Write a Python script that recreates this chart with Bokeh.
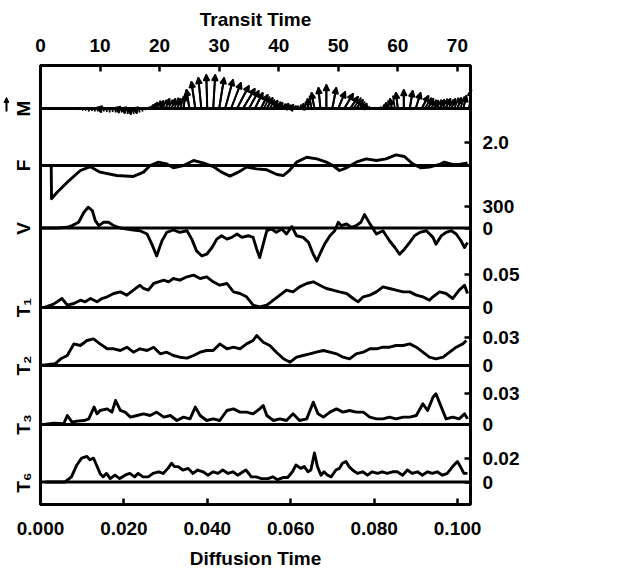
import math
from bokeh.plotting import figure
from bokeh.layouts import row
from bokeh.models import (Range1d, LinearAxis, FixedTicker, Span, Arrow, NormalHead,
                          ColumnDataSource, NumeralTickFormatter)
from bokeh.embed import file_html
from bokeh.resources import INLINE

# ---------------- data ----------------
transit_ticks = [0, 10, 20, 30, 40, 50, 60, 70]
diffusion_ticks = [0.0, 0.02, 0.04, 0.06, 0.08, 0.10]
panel_names = ["M", "F", "V", "T\u2081", "T\u2082", "T\u2083", "T\u2086"]

# M vector field, sampled every 0.5 transit times (vertical / horizontal components)
m_y = [1, 1, 1, 0.5, 1, 1, 1, 1, 0.5, 0,
       0, -1, -1, -1.5, -2, -2, -3, -2.5, -3, -3,
       -4, -3, -3.5, -4, -3.5, -4, -4.5, -4, -5, -5.5,
       -6, -5.5, -5, -4, -3, -1.5, 2, 4, 6, 8,
       8, 9, 10, 9, 10, 11, 10, 12, 14, 16,
       19, 23, 27, 29, 31, 32, 34, 33, 34, 32,
       31, 30, 29, 27, 26, 24, 23, 21, 20, 19,
       18, 17, 16, 15, 14, 12, 11, 9, 8, 7,
       6, 5, 5, 4, 4, 3, 3, 4, 5, 7,
       10, 13, 16, 19, 21, 23, 24, 23, 21, 19,
       17, 16, 15, 14, 12, 11, 9, 7, 5, 3,
       2, 1, 1, 1, 2, 4, 6, 8, 10, 13,
       16, 18, 19, 19, 18, 17, 16, 15, 13, 11,
       10, 9, 8, 9, 9, 10, 10, 9, 10, 11,
       11, 12, 13, 15, 19]
m_x = [0.5, 0.5, 0.5, 0.5, 0.5, 0.5, 0.5, 0.5, 0.5, 0.5,
       0.5, 0.5, 0.5, 0.5, 1, 1, 1, 1, 1, 1,
       1, 1, 1, 1, 1, 1, 1, 1, 1, 1,
       1, 1, 1, 1, 1, 1, 3, 3, 4, 4,
       4, 4, 4, 4, 4, 4, 3, 3, 2, 1,
       -3, -4, -4, -4, -3, -2, -1, 0, 2, 3,
       5, 6, 8, 9, 10, 11, 12, 12, 12, 11,
       10, 9, 8, 7, 7, 6, 6, 5, 5, 5,
       4, 4, 4, 3, 3, 3, 2, 2, 1, 0,
       -1, -2, -3, -3, -2, -1, 0, 2, 4, 6,
       7, 8, 9, 9, 8, 8, 7, 6, 5, 3,
       2, 1, 1, 1, 1, 1, 0, -1, -2, -2,
       -2, -1, 0, 1, 3, 4, 5, 6, 7, 7,
       6, 6, 5, 5, 5, 5, 5, 5, 4, 4,
       4, 4, 3, 3, 2]
m_t = [0.5 * i for i in range(len(m_y))]

t_f = [0, 1.8, 1.85, 2.8, 4.5, 6.7, 8.4, 10, 12.8, 15.6, 17.3, 18.4, 19.8, 21.2, 22.3,
       24, 25.7, 27.4, 29, 30.4, 31.8, 33.2, 34.6, 36.3, 38, 39.7, 40.8, 41.9, 43,
       44.7, 46.4, 48, 49.1, 50.2, 51.4, 53, 54.7, 56.4, 58, 59.7, 61.1, 62.5, 63.9,
       65.3, 67, 67.8, 69.2, 70.3, 71.7]
f_vals = [0, 0, -2.86, -2.3, -1.43, -0.43, -0.1, -0.57, -0.86, -0.94, -0.57, 0, 0.29,
          0.14, -0.2, 0, 0.43, 0.2, -0.09, -0.57, -0.91, -0.57, -0.14, -0.29, -0.37,
          -0.77, -0.86, -0.37, 0.29, 0.71, 0.57, 0.29, 0, -0.43, -0.2, 0.29, 0.57, 0.43,
          0.57, 0.91, 0.77, 0.14, -0.2, -0.14, 0.09, 0.29, 0.09, 0.09, 0.23]

t_v = [0, 2.8, 4.5, 5.3, 6.4, 7.3, 8.0, 8.7, 9.2, 9.8, 10.6, 11.4, 12.3, 13.4, 14.5,
       15.6, 16.7, 17.9, 18.7, 19.5, 20.4, 21.2, 22.3, 23.4, 24.6, 25.4, 26.2, 27.1,
       27.9, 28.8, 29.6, 30.4, 31.3, 32.1, 33, 33.8, 34.9, 35.7, 36.3, 36.8, 37.4, 38,
       38.8, 39.6, 40.5, 41.3, 42.2, 43, 44.1, 45, 45.8, 46.4, 46.9, 47.7, 48.6, 49.4,
       50, 50.5, 51.4, 52.2, 53, 53.8, 54.4, 55, 55.5, 56.4, 57.5, 58.6, 59.5, 60.3,
       61.1, 62, 62.8, 63.7, 64.8, 65.9, 66.4, 67.3, 68.1, 69, 69.8, 70.6, 71.2, 71.7]
v_vals = [0, 0, 10, 33, 80, 220, 290, 244, 103, 33, 80, 80, 33, 0, -14,
          -28, -38, -84, -225, -390, -178, -61, -28, -61, -38, -155, -319, -390,
          -366, -272, -155, -108, -155, -131, -84, -131, -108, -131, -295, -413, -225, -38,
          -14, -61, -14, -84, 20, -108, -131, -201, -366, -460, -366, -225, -108, -38,
          80, 33, 56, 9, 33, 80, 188, 103, 33, -84, -38, -178, -272, -366,
          -295, -201, -108, -61, -38, -131, -225, -108, -61, -38, -84, -178, -272, -201]

t_t1 = [0.56, 2.2, 3.6, 4.5, 5.6, 6.7, 7.5, 8.4, 9.5, 10.3, 11.2, 12.3, 13.4, 14.5,
        15.6, 16.7, 17.3, 18.1, 19, 19.8, 20.7, 21.5, 22.3, 23.4, 24.6, 25.7, 26.8,
        27.9, 29, 30.1, 31.3, 32.4, 33.5, 34.6, 35.7, 36.8, 38, 39.1, 40.2, 41.3, 42.4,
        43.5, 44.7, 45.8, 46.9, 48, 49.1, 50.2, 51.4, 52.5, 53.3, 54.2, 55.3, 56.4,
        57.5, 58.6, 59.7, 60.9, 62, 63.1, 64.2, 65.3, 65.9, 67, 68.1, 69.2, 70.3,
        71.2, 71.7]
t1_vals = [0, 0.0051, 0.0136, 0.0035, 0.0061, 0.0111, 0.0086, 0.0136, 0.0086, 0.0136,
           0.0162, 0.0212, 0.0237, 0.0187, 0.0263, 0.0338, 0.0288, 0.0263, 0.0364,
           0.0389, 0.0414, 0.0389, 0.0439, 0.0414, 0.0465, 0.049, 0.0439, 0.0465,
           0.0389, 0.0338, 0.0364, 0.0237, 0.0212, 0.0162, 0.0035, 0.001, 0.0035,
           0.0111, 0.0187, 0.0263, 0.0237, 0.0313, 0.0364, 0.0389, 0.0338, 0.0288,
           0.0263, 0.0237, 0.0212, 0.0136, 0.0086, 0.0162, 0.0187, 0.0237, 0.0313,
           0.0288, 0.0263, 0.0237, 0.0237, 0.0187, 0.0162, 0.0111, 0.0162, 0.0237,
           0.0212, 0.0136, 0.0263, 0.0338, 0.0212]

t_t2 = [0, 2.5, 3.4, 4.5, 5.6, 6.7, 7.8, 8.9, 10, 11.2, 12.3, 13.4, 14.5, 15.6, 16.7,
        17.9, 19, 20.1, 21.2, 22.3, 23.4, 24.6, 25.7, 26.8, 27.9, 29, 30.1, 31.3, 32.4,
        33.5, 34.6, 35.7, 36.3, 37.4, 38.5, 39.6, 40.8, 41.9, 43, 44.1, 45.2, 46.3,
        47.5, 48.6, 49.7, 50.8, 51.9, 53, 54.2, 55.3, 56.4, 57.5, 58.6, 59.7, 60.9, 62,
        63.1, 64.2, 65.3, 66.4, 67.6, 68.7, 69.8, 70.9, 71.5]
t2_vals = [0, 0.002, 0.0071, 0.0106, 0.0229, 0.0212, 0.0265, 0.0282, 0.0229, 0.0177,
           0.0177, 0.0159, 0.0194, 0.0141, 0.0177, 0.0159, 0.0194, 0.0124, 0.0141,
           0.0106, 0.0088, 0.0078, 0.0106, 0.0141, 0.0159, 0.0159, 0.0229, 0.0177,
           0.0194, 0.0177, 0.0229, 0.0265, 0.0318, 0.0247, 0.0212, 0.0141, 0.0071,
           0.0035, 0.0088, 0.0106, 0.0124, 0.0141, 0.0159, 0.0141, 0.0124, 0.0088,
           0.0071, 0.0124, 0.0141, 0.0177, 0.0177, 0.0194, 0.0194, 0.0212, 0.0212,
           0.0229, 0.0194, 0.0141, 0.0088, 0.0071, 0.0088, 0.0141, 0.0194, 0.0229, 0.0265]

t_t3 = [0.56, 2.2, 3.9, 4.5, 5.3, 6.1, 7.3, 8.1, 9, 9.5, 10, 11.2, 12, 12.6, 13.4, 14.2,
        15.1, 16.2, 17.3, 18.4, 19.5, 20.7, 21.8, 22.9, 24, 25.1, 26, 26.8, 27.9, 29,
        30.1, 31.3, 32.4, 33.5, 34.6, 35.7, 36.8, 37.4, 38, 39.1, 40.2, 41.3, 42.4,
        43.5, 44.7, 45.8, 46.6, 47.5, 48.6, 49.7, 50.8, 51.9, 53, 54.2, 55.3, 56.4,
        57.5, 58.6, 59.7, 60.9, 62, 63.1, 64.2, 65, 65.9, 66.4, 67.3, 68.1, 69.2, 70.3,
        71.2, 71.7]
t3_vals = [0, 0.0013, 0.0007, 0.0088, 0.0023, 0.0033, 0.0039, 0.0055, 0.017, 0.0104,
           0.0137, 0.0153, 0.0121, 0.0235, 0.0137, 0.0121, 0.0072, 0.0088, 0.0104,
           0.0088, 0.0121, 0.0072, 0.0088, 0.0039, 0.0072, 0.0055, 0.017, 0.0088,
           0.0039, 0.0055, 0.0039, 0.0137, 0.0153, 0.0121, 0.0121, 0.0104, 0.0153,
           0.0186, 0.0088, 0.0039, 0.0055, 0.0039, 0.0104, 0.0039, 0.0055, 0.0218,
           0.0104, 0.0072, 0.0121, 0.0153, 0.0121, 0.0137, 0.0121, 0.0121, 0.0072,
           0.0055, 0.0055, 0.0072, 0.0055, 0.0072, 0.0072, 0.0088, 0.0202, 0.0137,
           0.0267, 0.03, 0.017, 0.0055, 0.0072, 0.0055, 0.0104, 0.0055]

t_t6 = [0.8, 4.1, 5.2, 6.1, 6.9, 7.8, 8.3, 8.9, 9.4, 10, 10.5, 11.1, 11.7, 12.5, 13.3,
        14.2, 15, 15.8, 16.4, 17.2, 18.1, 18.9, 19.8, 20.6, 21.4, 22, 22.5, 23.1, 23.9,
        24.8, 25.6, 26.4, 27.3, 28.1, 29, 29.8, 30.6, 31.5, 32.3, 33.1, 34, 34.5, 35.4,
        36.2, 37.1, 38.2, 39, 39.8, 40.7, 41.5, 42.3, 42.9, 43.7, 44.3, 44.9, 45.4, 46,
        46.5, 47.1, 47.6, 48.2, 48.8, 49.6, 50.2, 50.7, 51.3, 51.8, 52.4, 53.2, 54.1,
        54.9, 55.7, 56.6, 57.4, 58.2, 59.1, 59.9, 60.8, 61.6, 62.4, 63.3, 64.1, 65,
        65.8, 66.6, 67.5, 68.3, 69.2, 70, 70.5, 71.1, 71.7]
t6_vals = [0, 0, 0.0044, 0.0145, 0.0203, 0.0218, 0.0189, 0.0203, 0.0145, 0.0073, 0.0044,
           0.0073, 0.0029, 0.0058, 0.0029, 0.0058, 0.0073, 0.0044, 0.0073, 0.0044,
           0.0044, 0.0073, 0.0087, 0.0073, 0.0116, 0.016, 0.0131, 0.0131, 0.0102,
           0.0116, 0.0073, 0.0102, 0.0087, 0.0058, 0.0087, 0.0073, 0.0102, 0.0073,
           0.0087, 0.0058, 0.0087, 0.0102, 0.0044, 0.0044, 0.0029, 0.0029, 0.0044,
           0.002, 0.0038, 0.0038, 0.0087, 0.0145, 0.0116, 0.0131, 0.0087, 0.0102,
           0.0247, 0.0131, 0.0058, 0.0087, 0.0058, 0.0044, 0.0102, 0.0116, 0.016,
           0.0174, 0.0131, 0.0102, 0.0073, 0.0087, 0.0058, 0.0087, 0.0073, 0.0087,
           0.0073, 0.0087, 0.0087, 0.0058, 0.0102, 0.0073, 0.0087, 0.0058, 0.0087,
           0.0073, 0.0087, 0.0058, 0.0073, 0.0131, 0.0174, 0.0131, 0.0073, 0.0073]

# ---------------- layout ----------------
FRAME_W, FRAME_H = 430, 439
SIDE_W = 9
TRANSIT_MAX = 72.2
DIFF_MAX = 0.1031
FONT = "Liberation Sans"
FS = "19px"

# key: (baseline px below frame top, px per data unit, right-axis tick values)
panels = [
    ("m", 43, 1.0, []),
    ("f", 100, 23.3 / 2.0, [2.0]),
    ("v", 162.5, 21.5 / 300, [300, 0]),
    ("t1", 242, 33 / 0.05, [0.05, 0]),
    ("t2", 300, 28.3 / 0.03, [0.03, 0]),
    ("t3", 359, 30.7 / 0.03, [0.03, 0]),
    ("t6", 416.5, 23.5 / 0.02, [0.02, 0]),
]

p = figure(frame_width=FRAME_W, frame_height=FRAME_H,
           x_range=Range1d(0, DIFF_MAX), y_range=Range1d(0, FRAME_H),
           x_axis_location=None, y_axis_location=None,
           output_backend="svg", toolbar_location=None,
           min_border_left=40 - SIDE_W, min_border_right=70, min_border_top=65,
           min_border_bottom=70)
p.grid.visible = False
p.outline_line_color = "black"
p.outline_line_width = 3
p.extra_x_ranges = {"transit": Range1d(0, TRANSIT_MAX)}

# very narrow strip at the far left that carries only the vector arrow of the "M" label
side = figure(frame_width=SIDE_W, frame_height=FRAME_H,
              x_range=Range1d(0, SIDE_W), y_range=Range1d(0, FRAME_H),
              x_axis_location=None, y_axis_location=None,
              output_backend="svg", toolbar_location=None,
              min_border_left=0, min_border_right=0, min_border_top=65, min_border_bottom=70)
side.grid.visible = False
side.outline_line_color = None

left_ticks, left_over, right_ticks, right_over = [], {}, [], {}
for (key, base, scale, tvals), name in zip(panels, panel_names):
    p.extra_y_ranges[key] = Range1d(-(FRAME_H - base) / scale, base / scale)
    pos0 = FRAME_H - base
    lt = int(round(pos0))
    left_ticks.append(lt)
    left_over[lt] = name
    for tv in tvals:
        rt = int(round(pos0 + tv * scale))
        right_ticks.append(rt)
        right_over[rt] = "0" if tv == 0 else str(tv)
    p.add_layout(Span(location=pos0, dimension="width", line_color="black", line_width=3))

m_label_y = FRAME_H - panels[0][1]
side.add_layout(Arrow(end=NormalHead(size=5, fill_color="black", line_color="black",
                                     line_width=1),
                      x_start=SIDE_W - 3, y_start=m_label_y - 3,
                      x_end=SIDE_W - 3, y_end=m_label_y + 11,
                      line_color="black", line_width=2))


def style(ax):
    ax.axis_line_width = 3
    ax.axis_line_color = "black"
    ax.major_tick_in = 6
    ax.major_tick_out = 0
    ax.major_tick_line_width = 2.5
    ax.minor_tick_line_color = None
    ax.major_label_text_font = FONT
    ax.major_label_text_font_style = "bold"
    ax.major_label_text_font_size = FS
    ax.major_label_text_color = "black"
    ax.axis_label_text_font = FONT
    ax.axis_label_text_font_style = "bold"
    ax.axis_label_text_font_size = FS
    ax.axis_label_text_color = "black"


bottom = LinearAxis(ticker=FixedTicker(ticks=diffusion_ticks),
                    formatter=NumeralTickFormatter(format="0.000"),
                    axis_label="Diffusion Time")
style(bottom)
bottom.major_label_standoff = 17
bottom.axis_label_standoff = 10
p.add_layout(bottom, "below")

top = LinearAxis(x_range_name="transit", ticker=FixedTicker(ticks=transit_ticks),
                 axis_label="Transit Time")
style(top)
top.major_label_standoff = 14
top.axis_label_standoff = 6
p.add_layout(top, "above")

left = LinearAxis(ticker=FixedTicker(ticks=left_ticks), major_label_overrides=left_over)
style(left)
left.major_tick_line_color = None
left.major_label_orientation = "vertical"
left.major_label_standoff = 7
p.add_layout(left, "left")

right = LinearAxis(ticker=FixedTicker(ticks=right_ticks), major_label_overrides=right_over)
style(right)
right.major_label_standoff = 12
p.add_layout(right, "right")

# ---------------- M vector field ----------------
k = TRANSIT_MAX / FRAME_W   # transit units per pixel (vectors drawn in pixel proportions)
m_x1 = [t + dx * k for t, dx in zip(m_t, m_x)]
m_len = [math.hypot(dx, dy) for dx, dy in zip(m_x, m_y)]
shaft = [i for i in range(len(m_t)) if m_len[i] < 15 or m_t[i] == int(m_t[i])]
msrc = ColumnDataSource(dict(x0=[m_t[i] for i in shaft], y0=[0] * len(shaft),
                             x1=[m_x1[i] for i in shaft], y1=[m_y[i] for i in shaft]))
p.segment("x0", "y0", "x1", "y1", source=msrc, x_range_name="transit", y_range_name="m",
          line_color="black", line_width=1.8)
sel = [i for i in range(len(m_t)) if m_t[i] == int(m_t[i]) and m_len[i] >= 4]
hsrc = ColumnDataSource(dict(x0=[m_t[i] for i in sel], y0=[0] * len(sel),
                             x1=[m_x1[i] for i in sel], y1=[m_y[i] for i in sel]))
p.add_layout(Arrow(end=NormalHead(size=6, fill_color="black", line_color="black",
                                  line_width=1.5),
                   x_start="x0", y_start="y0", x_end="x1", y_end="y1", source=hsrc,
                   x_range_name="transit", y_range_name="m",
                   line_color="black", line_width=2))

# ---------------- curves ----------------
for key, tt, vv in [("f", t_f, f_vals), ("v", t_v, v_vals), ("t1", t_t1, t1_vals),
                    ("t2", t_t2, t2_vals), ("t3", t_t3, t3_vals), ("t6", t_t6, t6_vals)]:
    p.line(tt, vv, x_range_name="transit", y_range_name=key,
           line_color="black", line_width=2.9, line_join="round")

layout = row(side, p)
open("out.html", "w").write(file_html(layout, INLINE))
